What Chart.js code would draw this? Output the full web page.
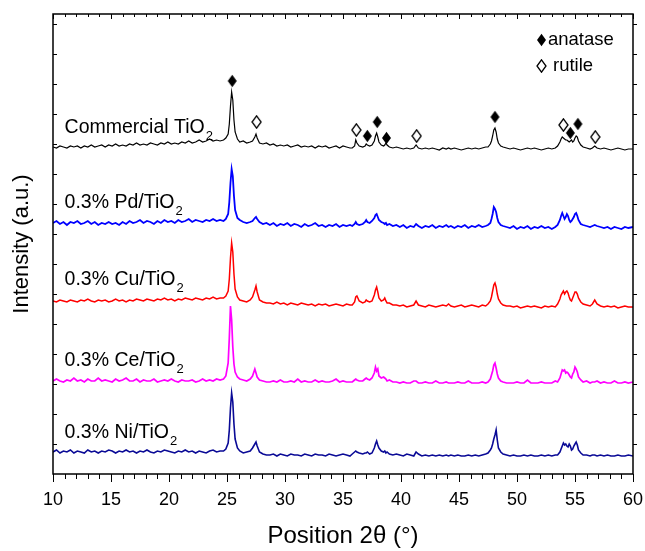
<!DOCTYPE html>
<html>
<head>
<meta charset="utf-8">
<script src="https://cdn.jsdelivr.net/npm/chart.js@4.4.0/dist/chart.umd.min.js"></script>
<style>
  html, body { margin: 0; padding: 0; background: #fff; overflow: hidden; }
  canvas { display: block; }
</style>
</head>
<body>
<canvas id="xrdChart" width="645" height="551"></canvas>
<script>
// 2θ positions (denser around the peaks)
const twoTheta = [
  10.0,10.3,10.6,10.9,11.2,11.5,11.8,12.1,12.4,12.7,13.0,13.3,13.6,13.9,14.2,14.5,14.8,15.1,15.4,15.7,16.0,16.3,16.6,16.9,17.2,17.5,17.8,18.1,18.4,18.7,19.0,19.3,19.6,19.9,20.2,20.5,20.8,21.1,21.4,21.7,22.0,22.3,22.6,22.9,23.2,23.5,23.8,24.1,24.4,
  24.7,24.9,25.1,25.2,25.3,25.4,25.5,25.6,25.7,25.9,26.1,26.4,26.7,27.0,27.2,27.4,27.5,27.6,27.8,28.1,28.4,
  28.7,29.0,29.3,29.6,29.9,30.2,30.5,30.8,31.1,31.4,31.7,32.0,32.3,32.6,32.9,33.2,33.5,33.8,34.1,34.4,34.7,35.0,35.3,35.6,
  35.8,36.0,36.1,36.2,36.4,36.7,36.9,37.0,37.1,37.3,37.5,37.7,37.8,37.9,38.0,38.1,38.3,38.5,38.6,38.7,38.8,39.0,39.3,39.6,
  39.9,40.2,40.5,40.8,41.1,41.3,41.5,41.8,42.1,42.4,42.7,43.0,43.3,43.6,43.9,44.1,44.3,44.6,44.9,45.2,45.5,45.8,46.1,46.4,46.7,47.0,47.3,
  47.5,47.7,47.8,47.9,48.0,48.1,48.2,48.3,48.4,48.6,48.8,49.1,
  49.4,49.7,50.0,50.3,50.6,50.9,51.2,51.5,51.8,52.1,52.4,52.7,53.0,53.3,
  53.5,53.7,53.8,53.9,54.0,54.1,54.2,54.3,54.4,54.5,54.6,54.7,54.8,54.9,55.0,55.1,55.2,55.3,55.5,55.7,56.0,56.3,56.5,56.7,56.9,57.2,
  57.5,57.8,58.1,58.4,58.7,59.0,59.3,59.6,60.0
];

// intensities (a.u.), each above its own baseline
const commercial = [
  2,1,3,2,1,3,2,3,1,3,2,4,2,3,4,2,4,3,5,3,4,3,5,4,6,4,5,4,6,5,4,6,5,7,5,6,5,7,6,8,6,7,9,7,8,10,8,9,8,
  9,11,15,25,43,57,49,29,17,10,7,8,6,7,8,12,15,11,6,5,6,
  4,5,3,4,3,4,2,3,4,2,3,2,3,1,3,2,3,1,2,3,1,3,2,1,
  1,3,9,6,3,2,3,5,4,3,4,8,13,16,12,7,4,3,4,6,4,2,1,2,
  1,0,1,0,1,4,1,0,1,0,1,0,-1,1,0,1,0,1,0,-1,0,1,0,1,0,1,2,
  2,5,8,13,19,21,17,10,6,3,2,1,
  0,1,0,-1,0,1,0,1,0,-1,0,1,0,1,
  3,7,10,12,11,10,9,9,8,7,8,9,7,8,11,13,12,8,4,2,1,0,1,3,1,0,
  1,0,-1,0,1,0,-1,0,0
];
const pdTiO2 = [
  5,7,4,6,3,6,5,7,4,5,7,4,6,3,5,4,6,4,5,3,6,4,7,5,6,8,5,7,6,4,7,5,8,6,7,5,8,6,7,9,6,8,7,6,8,7,9,7,8,
  7,9,14,26,45,59,52,32,18,10,8,6,5,6,7,10,11,9,6,4,5,
  3,5,2,4,3,5,2,4,3,1,4,2,3,5,2,3,1,3,2,4,1,3,2,3,
  2,4,6,4,3,4,6,8,6,5,7,10,13,14,11,8,6,5,4,5,3,4,2,3,
  1,3,0,2,1,4,2,0,2,1,3,0,2,1,3,1,2,0,2,1,3,0,2,1,3,1,2,
  3,5,9,14,21,19,16,10,6,3,2,1,
  0,2,-1,1,0,2,-1,1,0,2,0,1,-1,1,
  3,8,12,15,12,9,11,14,12,8,6,7,9,11,14,15,12,8,4,3,2,1,2,3,2,1,
  0,1,-1,1,0,-1,1,0,1
];
const cuTiO2 = [
  6,5,7,6,5,7,6,5,7,6,8,6,5,7,6,7,5,6,8,6,7,5,7,6,8,7,6,8,7,6,8,7,9,7,8,6,8,7,9,8,7,9,8,7,9,8,10,8,9,
  9,11,16,28,49,64,55,33,18,10,7,6,5,7,10,17,21,15,7,5,4,
  4,3,5,3,4,2,4,3,2,4,3,2,3,1,3,2,3,1,2,3,2,1,3,2,
  2,5,10,11,6,4,5,7,6,5,6,12,17,20,15,9,6,7,9,6,4,4,2,2,
  1,2,0,1,2,6,2,1,0,2,1,0,1,2,1,3,1,0,1,2,0,1,2,1,0,2,1,
  3,6,10,16,22,24,20,13,8,4,2,1,
  1,0,1,-1,0,1,0,1,0,-1,1,0,1,0,
  3,8,12,14,16,13,15,16,14,10,7,6,9,12,15,15,13,9,5,3,2,1,3,7,3,1,
  0,1,0,1,-1,0,1,0,0
];
const ceTiO2 = [
  2,4,2,1,3,2,5,2,3,1,4,2,2,5,2,3,2,1,4,2,3,5,2,2,4,1,3,2,2,4,1,2,3,2,4,2,1,3,2,2,3,1,2,4,2,3,2,4,3,
  4,7,20,45,77,63,36,19,11,6,4,3,2,4,7,14,10,6,3,2,1,
  1,2,1,3,1,1,2,1,4,1,2,1,1,3,1,2,1,1,2,4,1,2,1,1,
  1,3,4,3,2,2,4,5,4,3,5,10,16,12,14,7,5,6,5,4,2,3,1,1,
  0,1,0,0,2,2,0,0,1,0,0,2,0,0,1,0,0,0,1,0,0,2,0,0,0,1,0,
  1,4,8,12,18,20,15,9,5,2,1,0,
  0,0,1,0,0,3,0,0,0,1,0,0,0,2,
  1,5,9,13,12,13,10,11,10,8,6,5,9,11,16,14,11,6,3,1,2,0,1,1,2,0,
  1,0,0,2,0,0,1,0,1
];
const niTiO2 = [
  4,6,3,5,4,6,3,5,4,3,6,4,5,3,5,4,6,5,3,5,4,6,4,5,3,5,4,6,4,3,5,4,6,5,4,3,5,4,6,4,5,3,5,4,3,5,6,4,5,
  5,7,13,26,48,63,54,32,17,8,5,3,4,5,8,12,14,10,4,2,1,
  1,2,0,2,1,0,2,1,1,0,2,1,0,2,1,1,0,2,1,0,1,2,1,0,
  2,4,5,4,3,2,3,3,4,2,3,8,12,15,11,8,5,4,5,3,4,2,1,2,
  1,0,2,1,0,4,2,0,1,0,1,0,1,0,1,0,1,0,1,0,0,1,0,1,0,1,2,
  3,6,8,12,17,21,26,16,8,4,2,1,
  0,1,0,0,1,0,1,0,0,1,0,1,0,1,
  1,4,7,10,13,11,12,10,9,12,10,6,7,10,12,14,11,6,3,1,1,0,1,1,0,1,
  0,1,0,0,1,0,0,1,0
];

const sampleNames = ["Commercial TiO", "0.3% Pd/TiO", "0.3% Cu/TiO", "0.3% Ce/TiO", "0.3% Ni/TiO"];

// phase markers on the commercial pattern
const anataseTheta = [25.45, 37.1, 37.95, 38.75, 48.1, 54.6, 55.25];
const anataseLevel = [393, 338, 352, 336, 357, 341, 350];
const rutileTheta = [27.55, 36.15, 41.35, 54.0, 56.75];
const rutileLevel = [352, 344, 338, 349, 337];

const FONT = '"Liberation Sans", Arial, sans-serif';

// vertical stacking of the patterns
const offsets = [325, 246, 167, 91, 18];
const colors = ["#000000", "#0000ff", "#ff0000", "#ff00ff", "#0a0a96"];
const widths = [1.2, 1.8, 1.5, 1.7, 1.6];
const series = [commercial, pdTiO2, cuTiO2, ceTiO2, niTiO2];

function diamond(filled) {
  const c = document.createElement("canvas");
  c.width = 11; c.height = 14;
  const g = c.getContext("2d");
  g.beginPath();
  g.moveTo(5.5, 0.8); g.lineTo(10, 7); g.lineTo(5.5, 13.2); g.lineTo(1, 7);
  g.closePath();
  if (filled) { g.fillStyle = "#000"; g.fill(); }
  else { g.strokeStyle = "#000"; g.lineWidth = 1.3; g.stroke(); }
  return c;
}
const fullDiamond = diamond(true);
const openDiamond = diamond(false);

const datasets = series.map((vals, i) => ({
  data: twoTheta.map((t, k) => ({ x: t, y: vals[k] + offsets[i] })),
  borderColor: colors[i],
  borderWidth: widths[i],
  pointRadius: 0,
  tension: 0,
  fill: false,
}));
datasets.push({
  type: "scatter",
  data: anataseTheta.map((t, k) => ({ x: t, y: anataseLevel[k] })),
  pointStyle: fullDiamond,
  pointRadius: 6,
});
datasets.push({
  type: "scatter",
  data: rutileTheta.map((t, k) => ({ x: t, y: rutileLevel[k] })),
  pointStyle: openDiamond,
  pointRadius: 6,
});

const labelLevels = [346, 271, 194, 113, 41];

const decor = {
  id: "decor",
  afterDatasetsDraw(chart) {
    const { ctx, chartArea: a, scales: { x, y } } = chart;
    ctx.save();
    ctx.strokeStyle = "#000";
    ctx.lineWidth = 1.5;
    ctx.strokeRect(a.left, a.top, a.right - a.left, a.bottom - a.top);

    // x ticks (bottom outward, top inward)
    ctx.lineWidth = 1;
    ctx.beginPath();
    for (let v = 10; v <= 60; v++) {
      const px = Math.round(x.getPixelForValue(v)) + 0.5;
      const major = v % 5 === 0;
      ctx.moveTo(px, a.bottom); ctx.lineTo(px, a.bottom + (major ? 8 : 5));
      ctx.moveTo(px, a.top); ctx.lineTo(px, a.top + (major ? 5 : 3));
    }
    // y ticks, no labels
    for (let v = 30; v < 460; v += 30) {
      const py = Math.round(y.getPixelForValue(v)) + 0.5;
      ctx.moveTo(a.left, py); ctx.lineTo(a.left + 4, py);
      ctx.moveTo(a.right, py); ctx.lineTo(a.right + 4, py);
    }
    ctx.stroke();

    // sample names with subscript 2
    ctx.fillStyle = "#000";
    ctx.textBaseline = "middle";
    ctx.textAlign = "left";
    sampleNames.forEach((name, i) => {
      const px = x.getPixelForValue(11.0);
      const py = y.getPixelForValue(labelLevels[i]);
      ctx.font = "19.5px " + FONT;
      ctx.fillText(name, px, py);
      const w = ctx.measureText(name).width;
      ctx.font = "13px " + FONT;
      ctx.fillText("2", px + w + 1, py + 8);
    });

    // legend
    ctx.font = "18.5px " + FONT;
    ctx.drawImage(fullDiamond, 536, 33);
    ctx.fillText("anatase", 548, 40);
    ctx.drawImage(openDiamond, 536, 59);
    ctx.fillText("rutile", 553, 66);
    ctx.restore();
  },
};

new Chart(document.getElementById("xrdChart"), {
  type: "line",
  data: { datasets },
  options: {
    responsive: false,
    animation: false,
    events: [],
    layout: { padding: { top: 14, right: 12, left: 0, bottom: 0 } },
    plugins: { legend: { display: false }, tooltip: { enabled: false } },
    scales: {
      x: {
        type: "linear",
        min: 10,
        max: 60,
        grid: { display: false, drawTicks: true, tickLength: 15 },
        border: { display: false },
        ticks: {
          stepSize: 1,
          autoSkip: false,
          maxRotation: 0,
          padding: 0,
          color: "#000",
          font: { family: FONT, size: 18 },
          callback: (v) => (v % 5 === 0 ? v : ""),
        },
        title: {
          display: true,
          text: "Position 2\u03b8 (\u00b0)",
          color: "#000",
          font: { family: FONT, size: 24 },
          padding: { top: 0, bottom: 0 },
        },
        afterFit: (s) => { s.height = 77; },
      },
      y: {
        min: 0,
        max: 460,
        grid: { display: false },
        border: { display: false },
        ticks: { display: false },
        title: {
          display: true,
          text: "Intensity (a.u.)",
          color: "#000",
          font: { family: FONT, size: 22 },
          padding: { top: 9, bottom: 0 },
        },
        afterFit: (s) => { s.width = 53; },
      },
    },
  },
  plugins: [decor],
});
</script>
</body>
</html>
